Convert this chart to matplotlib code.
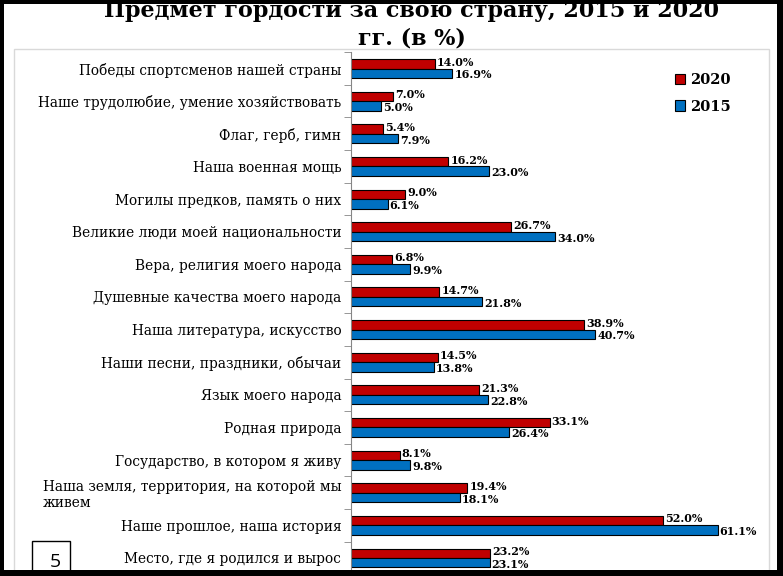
import matplotlib
matplotlib.use("Agg")
import matplotlib.pyplot as plt
import numpy as np
from matplotlib.patches import Rectangle
from matplotlib.ticker import FixedLocator

categories = [
    "Победы спортсменов нашей страны",
    "Наше трудолюбие, умение хозяйствовать",
    "Флаг, герб, гимн",
    "Наша военная мощь",
    "Могилы предков, память о них",
    "Великие люди моей национальности",
    "Вера, религия моего народа",
    "Душевные качества моего народа",
    "Наша литература, искусство",
    "Наши песни, праздники, обычаи",
    "Язык моего народа",
    "Родная природа",
    "Государство, в котором я живу",
    "Наша земля, территория, на которой мы\nживем",
    "Наше прошлое, наша история",
    "Место, где я родился и вырос",
]
vals_2020 = [14.0, 7.0, 5.4, 16.2, 9.0, 26.7, 6.8, 14.7, 38.9, 14.5, 21.3, 33.1, 8.1, 19.4, 52.0, 23.2]
vals_2015 = [16.9, 5.0, 7.9, 23.0, 6.1, 34.0, 9.9, 21.8, 40.7, 13.8, 22.8, 26.4, 9.8, 18.1, 61.1, 23.1]

RED = "#C00000"
BLUE = "#0070C0"
SERIF = "DejaVu Serif"

W, H = 783, 576
fig = plt.figure(figsize=(W / 100, H / 100), dpi=100, facecolor="white")


def px(x, y):
    return x / W, 1 - y / H


# light grey chart-area box
x0, y0 = px(14, 49)
x1, y1 = px(769, 590)
fig.patches.append(Rectangle((x0, y1), x1 - x0, y0 - y1, transform=fig.transFigure,
                             fill=False, edgecolor="#D9D9D9", lw=1, zorder=0.5))

# axes: zero at x=351, 6 px per %, rows 32.6 px apart
left, top = px(351, 52.2)
right, bottom = px(765, 574.3)
ax = fig.add_axes([left, bottom, right - left, top - bottom])
ax.set_zorder(1)
ax.patch.set_alpha(0)

y = np.arange(len(categories))
h = 0.29
ax.barh(y - h / 2, vals_2020, height=h, color=RED, edgecolor="black", lw=0.8, label="2020")
ax.barh(y + h / 2, vals_2015, height=h, color=BLUE, edgecolor="black", lw=0.8, label="2015")

lab_kw = dict(textcoords="offset points", va="center", ha="left",
              fontsize=8, fontweight="bold", family=SERIF)
for i in range(len(categories)):
    ax.annotate(f"{vals_2020[i]:.1f}%", (vals_2020[i], y[i] - h / 2), xytext=(1.5, 1.2), **lab_kw)
    ax.annotate(f"{vals_2015[i]:.1f}%", (vals_2015[i], y[i] + h / 2), xytext=(1.5, -1.2), **lab_kw)

ax.set_xlim(0, 69)
ax.set_ylim(len(categories) - 0.5, -0.5)
ax.set_yticks(y)
ax.set_yticklabels(categories, family=SERIF, fontsize=9.9)
for lab in ax.get_yticklabels():
    lab.set_multialignment("left")
ax.yaxis.set_minor_locator(FixedLocator(np.arange(-0.5, len(categories), 1)))
ax.tick_params(axis="y", which="major", length=0, pad=7)
ax.tick_params(axis="y", which="minor", length=5, color="#868686")
ax.xaxis.set_visible(False)
for s in ["top", "right", "bottom"]:
    ax.spines[s].set_visible(False)
ax.spines["left"].set_color("#868686")

# legend
handles = [Rectangle((0, 0), 1, 1, facecolor=RED, edgecolor="black", lw=0.8),
           Rectangle((0, 0), 1, 1, facecolor=BLUE, edgecolor="black", lw=0.8)]
lx, ly = px(662, 60)
fig.legend(handles, ["2020", "2015"], loc="upper left", bbox_to_anchor=(lx, ly),
           frameon=False, prop={"family": SERIF, "weight": "bold", "size": 10.5},
           handlelength=0.7, handleheight=0.7, handletextpad=0.35, labelspacing=0.85)

# title (top partly cut by the frame)
tx, ty = px(412, 17.5)
fig.text(tx, ty, "Предмет гордости за свою страну, 2015 и 2020", ha="center", va="baseline",
         fontsize=16, fontweight="bold", family=SERIF)
tx, ty = px(412, 45)
fig.text(tx, ty, "гг. (в %)", ha="center", va="baseline",
         fontsize=16, fontweight="bold", family=SERIF)

# page number box
bx0, by0 = px(32, 541)
bx1, by1 = px(70, 590)
fig.patches.append(Rectangle((bx0, by1), bx1 - bx0, by0 - by1, transform=fig.transFigure,
                             facecolor="white", edgecolor="black", lw=1, zorder=5))
nx, ny = px(55, 562)
fig.text(nx, ny, "5", ha="center", va="center", fontsize=14, family="Open Sans", zorder=6)

# black frame
for (a, b, c, d) in [(0, 0, 4, H), (777, 0, W, H), (0, 0, W, 4), (0, 570, W, H)]:
    fx0, fy0 = px(a, b)
    fx1, fy1 = px(c, d)
    fig.patches.append(Rectangle((fx0, fy1), fx1 - fx0, fy0 - fy1, transform=fig.transFigure,
                                 facecolor="black", edgecolor="none", zorder=10))

fig.savefig("out.png", dpi=100, facecolor="white")
